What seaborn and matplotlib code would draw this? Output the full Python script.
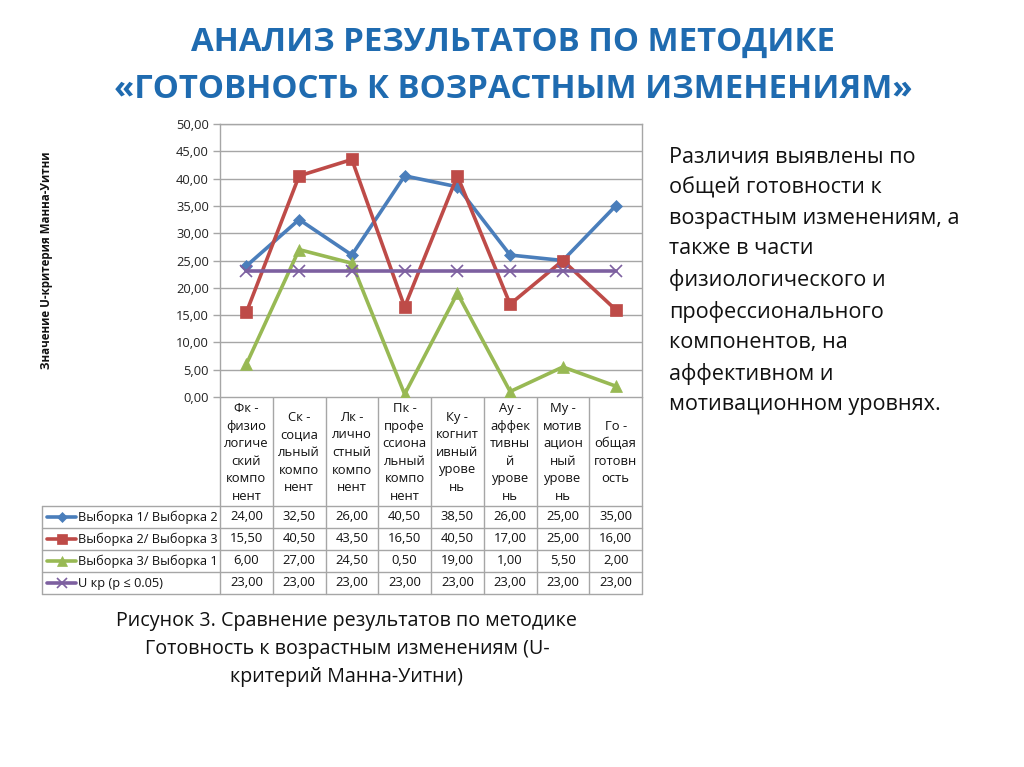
import matplotlib
matplotlib.use("Agg")
import matplotlib.pyplot as plt
import seaborn as sns
import pandas as pd
import numpy as np

# ---- data ----
categories = [
    "Фк -\nфизио\nлогиче\nский\nкомпо\nнент",
    "Ск -\nсоциа\nльный\nкомпо\nнент",
    "Лк -\nлично\nстный\nкомпо\nнент",
    "Пк -\nпрофе\nссиона\nльный\nкомпо\nнент",
    "Ку -\nкогнит\nивный\nурове\nнь",
    "Ау -\nаффек\nтивны\nй\nурове\nнь",
    "Му -\nмотив\nацион\nный\nурове\nнь",
    "Го -\nобщая\nготовн\nость",
]
series_names = ["Выборка 1/ Выборка 2", "Выборка 2/ Выборка 3",
                "Выборка 3/ Выборка 1", "U кр (p ≤ 0.05)"]
s1 = [24.00, 32.50, 26.00, 40.50, 38.50, 26.00, 25.00, 35.00]
s2 = [15.50, 40.50, 43.50, 16.50, 40.50, 17.00, 25.00, 16.00]
s3 = [6.00, 27.00, 24.50, 0.50, 19.00, 1.00, 5.50, 2.00]
ukr = [23.00, 23.00, 23.00, 23.00, 23.00, 23.00, 23.00, 23.00]
y_ticks = [0, 5, 10, 15, 20, 25, 30, 35, 40, 45, 50]

title_lines = "АНАЛИЗ РЕЗУЛЬТАТОВ ПО МЕТОДИКЕ\n«ГОТОВНОСТЬ К ВОЗРАСТНЫМ ИЗМЕНЕНИЯМ»"
side_text = ("Различия выявлены по\nобщей готовности к\nвозрастным изменениям, а\n"
             "также в части\nфизиологического и\nпрофессионального\nкомпонентов, на\n"
             "аффективном и\nмотивационном уровнях.")
caption = ("Рисунок 3. Сравнение результатов по методике\n"
           "Готовность к возрастным изменениям (U-\nкритерий Манна-Уитни)")
y_label = "Значение U-критерия Манна-Уитни"

colors = ["#4A7EBB", "#BE4B48", "#98B954", "#7D60A0"]
markers = ["D", "s", "^", "x"]
msizes = [6, 9, 9, 8]

all_values = [s1, s2, s3, ukr]
df = pd.DataFrame({
    "idx": np.tile(np.arange(len(categories)), len(series_names)),
    "value": np.concatenate(all_values),
    "series": np.repeat(series_names, len(categories)),
})

sns.set_theme(style="white")
plt.rcParams["font.family"] = ["Open Sans", "DejaVu Sans"]

W, H = 1024, 767
fig = plt.figure(figsize=(W / 100, H / 100), dpi=100)
fig.patch.set_facecolor("white")

# plot area in pixels
L, R, T, B = 220, 642, 124, 397
ax = fig.add_axes([L / W, 1 - B / H, (R - L) / W, (B - T) / H])
ncat = len(categories)
for name, col, mk, ms in zip(series_names, colors, markers, msizes):
    sub = df[df["series"] == name]
    sns.lineplot(data=sub, x="idx", y="value", ax=ax, color=col, lw=2.6,
                 marker=mk, markersize=ms, markeredgecolor=col,
                 markeredgewidth=1.2 if mk == "x" else 0.5,
                 legend=False, zorder=3)
ax.set_xlim(-0.5, ncat - 0.5)
ax.set_ylim(0, 50)
ax.set_yticks(y_ticks)
ax.set_yticklabels([f"{v:.2f}".replace(".", ",") for v in y_ticks],
                   fontsize=9.3, color="#222222")
ax.set_xticks([])
ax.set_xlabel("")
ax.set_ylabel("")
ax.grid(axis="y", color="#A6A6A6", lw=1.0)
ax.set_axisbelow(True)
ax.tick_params(axis="y", length=5, width=1, color="#A6A6A6", pad=3, left=True)
for sp in ["left", "right", "top"]:
    ax.spines[sp].set_color("#A6A6A6")
    ax.spines[sp].set_linewidth(1.0)
ax.spines["bottom"].set_visible(False)

# overlay in pixel coords
ov = fig.add_axes([0, 0, 1, 1], zorder=-1)
ov.set_xlim(0, W)
ov.set_ylim(H, 0)
ov.axis("off")

gc = "#A6A6A6"
colw = (R - L) / ncat
row_top = 506
row_h = 22
nrows = len(series_names)
bottom = row_top + row_h * nrows
# vertical lines of table
for k in range(ncat + 1):
    x = L + k * colw
    ov.plot([x, x], [B, bottom], color=gc, lw=1.0)
ov.plot([L, R], [B, B], color=gc, lw=1.0)
ov.plot([42, 42], [row_top, bottom], color=gc, lw=1.0)
for r in range(nrows + 1):
    y = row_top + r * row_h
    ov.plot([42, R], [y, y], color=gc, lw=1.0)

# header texts
for i, cat in enumerate(categories):
    ov.text(L + (i + 0.5) * colw, (B + row_top) / 2 + 1, cat, ha="center", va="center",
            fontsize=9.4, linespacing=1.45, color="#111111")

# legend column + values
for r, (name, vals, col, mk, ms) in enumerate(zip(series_names, all_values, colors, markers, msizes)):
    yc = row_top + (r + 0.5) * row_h
    ov.plot([47, 76], [yc, yc], color=col, lw=2.6)
    ov.plot([61.5], [yc], marker=mk, color=col, markersize=ms * 0.85,
            markeredgecolor=col, markeredgewidth=1.2 if mk == "x" else 0.5)
    ov.text(78, yc, name, ha="left", va="center", fontsize=9.2, color="#111111")
    for i, v in enumerate(vals):
        ov.text(L + (i + 0.5) * colw, yc, f"{v:.2f}".replace(".", ","),
                ha="center", va="center", fontsize=9.4, color="#111111")

# y label
ov.text(47, 260, y_label, rotation=90, ha="center", va="center",
        fontsize=8.3, fontweight="bold", color="#111111")

# title
ov.text(513, 66, title_lines, ha="center", va="center", fontsize=23.7,
        fontweight="bold", color="#1F6BB0", linespacing=1.57)

# side text
ov.text(669, 147, side_text, ha="left", va="top", fontsize=15.6,
        color="#111111", linespacing=1.575)

# caption
ov.text(347, 649, caption, ha="center", va="center", fontsize=14.2,
        color="#111111", linespacing=1.55)

fig.savefig("out.png", dpi=100, facecolor="white")
